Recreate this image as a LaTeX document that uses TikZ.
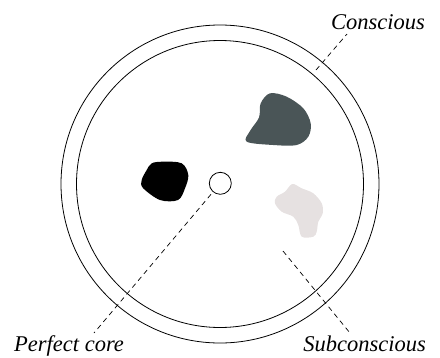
\documentclass[tikz,border=0pt]{standalone}
\usepackage{fontspec}
\setmainfont{Liberation Serif}
\usetikzlibrary{positioning,calc}
\definecolor{mindslate}{HTML}{4A5557}
\definecolor{mindblush}{HTML}{E6E1E1}

\begin{document}
\begin{tikzpicture}[x=1pt,y=-1pt,
  ring/.style={draw,circle,line width=0.8pt,inner sep=0pt},
  lbl/.style={font=\fontsize{22.5}{26}\selectfont\itshape,inner sep=0pt},
  leader/.style={dashed,dash pattern=on 5pt off 4pt,line width=0.7pt},
  blob/.style={smooth cycle,tension=0.55}]
  \useasboundingbox (0,0) rectangle (440,357);
  % the mind -- two rings round one small core
  \node[ring,minimum size=318pt] (outer) at (220,184) {};
  \node[ring,minimum size=287pt] (inner) at (220,184) {};
  \node[ring,minimum size=22pt] (core) at (220.3,183.3) {};
  % blobs
  \fill[black] plot[blob] coordinates {(151.7,163.3) (163,161.7) (181.7,163.3)
    (188.3,175) (185,188.3) (178,200) (160,200) (143,188) (141.7,180) (146.7,170)};
  \fill[mindslate] plot[blob] coordinates {(270,93.3) (286.7,96.7) (303.3,108.3)
    (310.7,123.3) (308.3,136.7) (296.7,145) (273.3,145) (246.7,141.7) (250,131)
    (259,117.5) (260.7,103.3)};
  \fill[mindblush] plot[blob] coordinates {(292.3,184) (301.7,188.3) (313.3,193.3)
    (321.7,203.3) (322.7,213.3) (318.3,221.7) (316.7,231.7) (313.3,236.7)
    (301.7,236.7) (298.3,225) (293.3,216.7) (281.7,211.7) (275,203.3)
    (276.7,196.7) (285,191.7)};
  % labels
  \node[lbl,anchor=base east] (consc) at (425,29.3) {Conscious};
  \node[lbl,anchor=base west] (perf) at (14,351.5) {Perfect core};
  \node[lbl,anchor=base east] (subc) at (426,351) {Subconscious};
  % leader lines
  \coordinate (cin) at (316,70);
  \coordinate (cout) at (347,34);
  \coordinate (pout) at (94,333);
  \coordinate (sin) at (283,251);
  \coordinate (sout) at (350,333);
  \draw[leader] (cin) -- (cout);
  \draw[leader,shorten <=3pt] (core) -- (pout);
  \draw[leader] (sin) -- (sout);
\end{tikzpicture}
\end{document}
